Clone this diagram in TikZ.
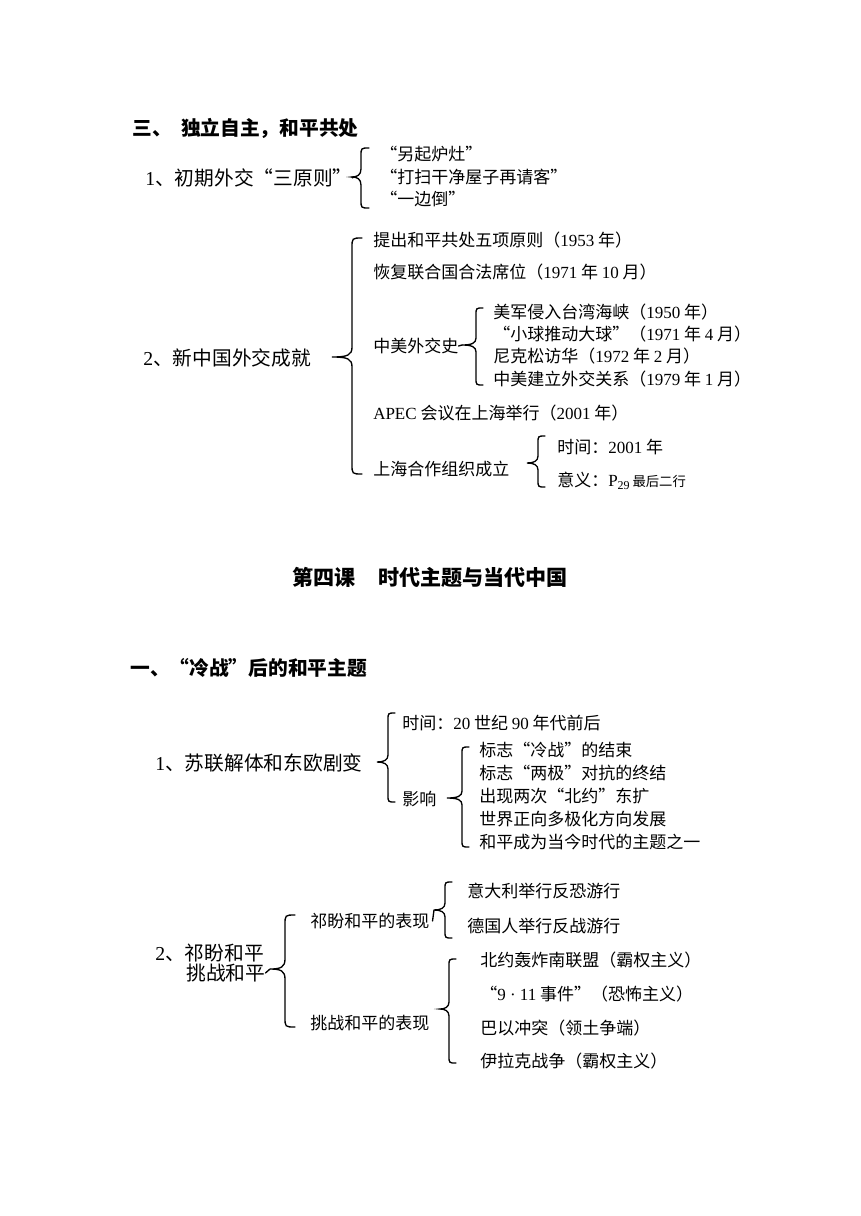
\documentclass[tikz,border=0pt]{standalone}
\usepackage{fontspec}
\setmainfont{Noto Sans CJK SC}
\newfontfamily\lserif{Liberation Serif}
\newcommand{\lat}[1]{{\lserif #1}}
\usepackage{tikz}

\tikzset{
  body/.style={anchor=west, inner sep=0pt, font=\fontsize{12.75}{15}\selectfont},
  big/.style={anchor=west, inner sep=0pt, font=\fontsize{14.8}{18}\selectfont},
  head/.style={anchor=west, inner sep=0pt, font=\fontsize{14.8}{18}\selectfont\bfseries},
  brc/.style={line width=1pt, line cap=round}
}

% brace: tip, depth, up, down, hook
\newcommand{\brc}[5]{%
  \draw[brc, shift={(#1)}] (#2+#5, -#3) .. controls (#2, -#3) .. (#2, -#3+#5)
    -- (#2, -#5) .. controls (#2, -2) and (#2-4, 0) .. (0, 0)
    .. controls (#2-4, 0) and (#2, 2) .. (#2, #5)
    -- (#2, #4-#5) .. controls (#2, #4) .. (#2+#5, #4);
}

\begin{document}
\begin{tikzpicture}[x=0.75pt, y=-0.75pt]

  \useasboundingbox (0, 0) rectangle (860, 1216);

  % part one
  \node[head] (h1) at (132, 128) {三、\hspace{7pt}独立自主，和平共处};

  \node[big] (a1) at (145, 178) {\lat{1}、初期外交“三原则”};
  \coordinate (ta1) at (352, 177);
  \draw[brc] (a1.east) -- (ta1);
  \brc{ta1}{9}{29}{31}{8}
  \foreach \txt/\yy [count=\i] in {“另起炉灶”/154, “打扫干净屋子再请客”/177, “一边倒”/199} {
    \node[body] (a1\i) at (380, \yy) {\txt};
  }

  \node[big] (a2) at (143, 358) {\lat{2}、新中国外交成就};
  \coordinate (ta2) at (332, 357);
  \brc{ta2}{20}{119}{117}{10}
  \node[body] (a21) at (373, 240) {提出和平共处五项原则（\lat{1953} 年）};
  \node[body] (a22) at (373, 272) {恢复联合国合法席位（\lat{1971} 年 \lat{10} 月）};
  \node[body] (a23) at (373, 346) {中美外交史};
  \node[body] (a24) at (373, 413) {\lat{APEC} 会议在上海举行（\lat{2001} 年）};
  \node[body] (a25) at (373, 469) {上海合作组织成立};

  \coordinate (ta23) at (462, 345);
  \draw[brc] (a23.east) -- (ta23);
  \brc{ta23}{14}{37}{40}{7}
  \foreach \txt/\yy [count=\i] in {
      {美军侵入台湾海峡（\lat{1950} 年）}/312,
      {“小球推动大球”（\lat{1971} 年 \lat{4} 月）}/334,
      {尼克松访华（\lat{1972} 年 \lat{2} 月）}/356,
      {中美建立外交关系（\lat{1979} 年 \lat{1} 月）}/379} {
    \node[body] (u\i) at (493, \yy) {\txt};
  }

  \coordinate (ta25) at (527, 463);
  \brc{ta25}{11}{27}{24}{7}
  \node[body] (s1) at (557, 447) {时间：\lat{2001} 年};
  \node[body] (s2) at (557, 481) {意义：\lat{P}\raisebox{-0.35ex}{\fontsize{9}{9}\selectfont\lat{29}}\,{\fontsize{10}{12}\selectfont 最后二行}};

  % part two
  \node[head, anchor=center, font=\fontsize{15.8}{18}\selectfont\bfseries] (t) at (430, 577)
    {第四课\hspace{17pt}时代主题与当代中国};

  \node[head] (h2) at (130, 668) {一、“冷战”后的和平主题};

  \node[big] (b1) at (155, 763) {\lat{1}、苏联解体和东欧剧变};
  \coordinate (tb1) at (377, 762);
  \brc{tb1}{11}{49}{40}{7}
  \node[body] (b11) at (402, 723) {时间：\lat{20} 世纪 \lat{90} 年代前后};
  \node[body] (b12) at (402, 799) {影响};
  \coordinate (tb12) at (447, 798);
  \brc{tb12}{15}{51}{49}{7}
  \foreach \txt/\yy [count=\i] in {
      标志“冷战”的结束/750, 标志“两极”对抗的终结/773, 出现两次“北约”东扩/796,
      世界正向多极化方向发展/819, 和平成为当今时代的主题之一/842} {
    \node[body] (e\i) at (479, \yy) {\txt};
  }

  \node[big] (b2) at (155, 953) {\lat{2}、祁盼和平};
  \node[big] (b2b) at (186, 973) {挑战和平};
  \coordinate (tb2) at (270, 969);
  \draw[brc] (b2b.east) -- (tb2);
  \brc{tb2}{15}{54}{58}{10}
  \node[body] (p1) at (310, 921) {祁盼和平的表现};
  \node[body] (p2) at (310, 1023) {挑战和平的表现};

  \coordinate (tp1) at (434, 910);
  \draw[brc] (p1.east) ++(3, 0) coordinate (p1e) (p1e) -- (tp1);
  \brc{tp1}{11}{28}{28}{7}
  \node[body] (q1) at (467, 891) {意大利举行反恐游行};
  \node[body] (q2) at (467, 926) {德国人举行反战游行};

  \coordinate (tp2) at (440, 1009);
  \brc{tp2}{9}{50}{54}{7}
  \foreach \txt/\yy [count=\i] in {
      北约轰炸南联盟（霸权主义）/960, {“\lat{9 · 11} 事件”（恐怖主义）}/994,
      巴以冲突（领土争端）/1028, 伊拉克战争（霸权主义）/1061} {
    \node[body] (r\i) at (480, \yy) {\txt};
  }

\end{tikzpicture}
\end{document}
